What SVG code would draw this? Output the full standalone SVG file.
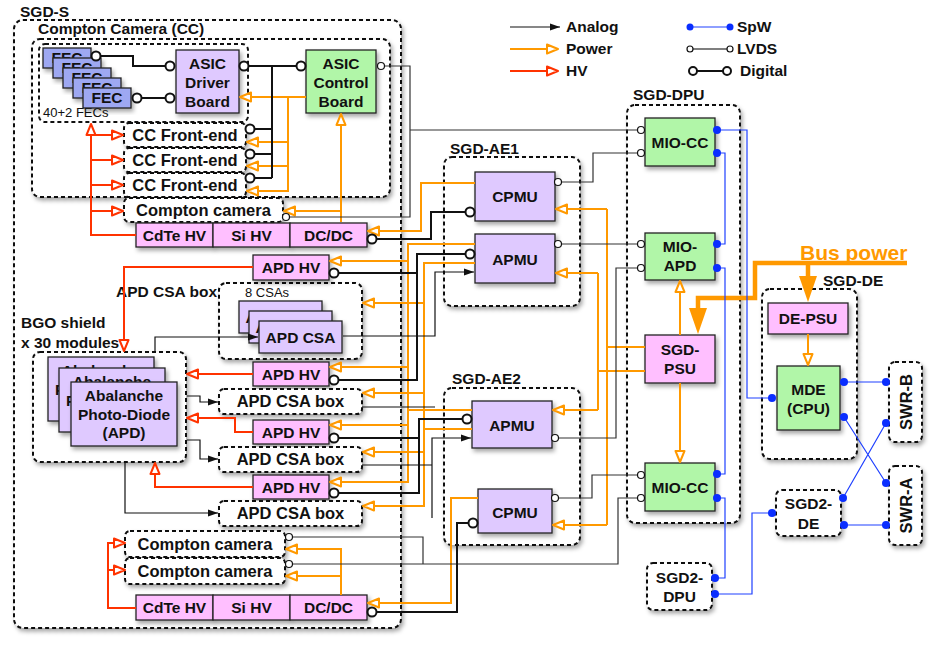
<svg xmlns="http://www.w3.org/2000/svg" width="934" height="645" viewBox="0 0 934 645">
<defs>
<style>
.t{font-family:"Liberation Sans",Arial,Helvetica,sans-serif;font-weight:bold;font-size:15.5px;fill:#111}
.c{text-anchor:middle}
.L{font-size:16.5px}
.n{font-weight:normal;font-size:13px}
.ct{fill:#fff;stroke:#111;stroke-width:2;stroke-dasharray:4 3;filter:url(#sh)}
.cn{fill:none;stroke:#111;stroke-width:2;stroke-dasharray:4 3}
.pu{fill:#dfc9ff;stroke:#222;stroke-width:1.3;filter:url(#sh)}
.pk{fill:#ffbfff;stroke:#222;stroke-width:1.3;filter:url(#sh)}
.gr{fill:#b1f6a8;stroke:#222;stroke-width:1.3;filter:url(#sh)}
.bl{fill:#9ea8f2;stroke:#222;stroke-width:1.3;filter:url(#sh)}
.dig{fill:none;stroke:#111;stroke-width:2}
.lv{fill:none;stroke:#333;stroke-width:1.2}
.an{fill:none;stroke:#111;stroke-width:1.2}
.pw{fill:none;stroke:#ff9900;stroke-width:2}
.hv{fill:none;stroke:#ff3300;stroke-width:2}
.sp{fill:none;stroke:#1f40ff;stroke-width:1.2}
.bp{fill:none;stroke:#ff9900;stroke-width:4.5}
.cd{fill:#fff;stroke:#111;stroke-width:2}
.cl{fill:#fff;stroke:#111;stroke-width:1.2}
.cs{fill:#0a2eff}
.mp{marker-end:url(#aP)}
.mh{marker-end:url(#aH)}
.ma{marker-end:url(#aA)}
.mb{marker-end:url(#aB)}
</style>
<filter id="sh" x="-15%" y="-15%" width="140%" height="150%">
<feDropShadow dx="2" dy="3" stdDeviation="2" flood-color="#000" flood-opacity="0.35"/>
</filter>
<clipPath id="cf0"><rect x="43" y="48" width="10" height="20"/><rect x="43" y="48" width="48" height="10"/></clipPath>
<clipPath id="cf1"><rect x="53" y="58" width="10" height="20"/><rect x="53" y="58" width="48" height="10"/></clipPath>
<clipPath id="cf2"><rect x="63" y="68" width="10" height="20"/><rect x="63" y="68" width="48" height="10"/></clipPath>
<clipPath id="cf3"><rect x="73" y="78" width="10" height="20"/><rect x="73" y="78" width="48" height="10"/></clipPath>
<clipPath id="cs0"><rect x="239" y="301" width="10" height="32"/><rect x="239" y="301" width="83" height="10"/></clipPath>
<clipPath id="cs1"><rect x="249" y="311" width="10" height="32"/><rect x="249" y="311" width="83" height="10"/></clipPath>
<clipPath id="ca0"><rect x="48" y="357" width="11" height="64"/><rect x="48" y="357" width="106" height="11"/></clipPath>
<clipPath id="ca1"><rect x="59" y="368" width="12" height="64"/><rect x="59" y="368" width="106" height="14"/></clipPath>
<marker id="aP" markerUnits="userSpaceOnUse" viewBox="0 0 15 12" markerWidth="15" markerHeight="12" refX="12.5" refY="6" orient="auto">
<path d="M1.5,1.5 L12.5,6 L1.5,10.5 Z" fill="#fff" stroke="#ff9900" stroke-width="2" stroke-linejoin="round"/>
</marker>
<marker id="aH" markerUnits="userSpaceOnUse" viewBox="0 0 15 12" markerWidth="15" markerHeight="12" refX="12.5" refY="6" orient="auto">
<path d="M1.5,1.5 L12.5,6 L1.5,10.5 Z" fill="#fff" stroke="#ff3300" stroke-width="2" stroke-linejoin="round"/>
</marker>
<marker id="aA" markerUnits="userSpaceOnUse" viewBox="0 0 10 8" markerWidth="10" markerHeight="8" refX="10" refY="4" orient="auto">
<path d="M0,0.5 L10,4 L0,7.5 Z" fill="#111"/>
</marker>
<marker id="aB" markerUnits="userSpaceOnUse" viewBox="0 0 26 18" markerWidth="26" markerHeight="18" refX="7" refY="9" orient="auto">
<path d="M0,0 L26,9 L0,18 Z" fill="#ff9900"/>
</marker>
</defs>
<rect width="934" height="645" fill="#fff"/>

<!-- containers -->
<g id="sgd-s"><rect class="ct" x="14" y="20" width="387" height="608" rx="9"/><text class="t" x="20" y="17">SGD-S</text></g>
<g id="cc"><rect class="ct" x="32" y="39" width="358" height="158" rx="8"/><text class="t" x="38" y="34">Compton Camera (CC)</text></g>
<g id="fec-group"><rect class="cn" x="39" y="44" width="209" height="78" rx="6"/><text class="t n" x="43" y="117">40+2 FECs</text></g>
<g id="apd-csa-group"><rect class="ct" x="219" y="283" width="143" height="76" rx="7"/><text class="t" x="116" y="297">APD CSA box</text><text class="t n" x="245" y="297">8 CSAs</text></g>
<g id="bgo"><rect class="ct" x="33" y="352" width="153" height="110" rx="7"/><text class="t" x="21" y="328">BGO shield</text><text class="t" x="21" y="348">x 30 modules</text></g>
<g id="sgd-ae1"><rect class="ct" x="444" y="157" width="136" height="149" rx="8"/><text class="t" x="450" y="154">SGD-AE1</text></g>
<g id="sgd-ae2"><rect class="ct" x="444" y="388" width="136" height="157" rx="8"/><text class="t" x="452" y="384">SGD-AE2</text></g>
<g id="sgd-dpu"><rect class="ct" x="627" y="105" width="113" height="418" rx="8"/><text class="t" x="633" y="100">SGD-DPU</text></g>
<g id="sgd-de"><rect class="ct" x="762" y="289" width="95" height="170" rx="8"/><text class="t" x="823" y="286">SGD-DE</text></g>

<!-- nodes -->
<g id="fec">
<rect class="bl" x="43" y="48" width="48" height="20"/><text class="t c" x="67" y="63" clip-path="url(#cf0)">FEC</text>
<rect class="bl" x="53" y="58" width="48" height="20"/><text class="t c" x="77" y="73" clip-path="url(#cf1)">FEC</text>
<rect class="bl" x="63" y="68" width="48" height="20"/><text class="t c" x="87" y="83" clip-path="url(#cf2)">FEC</text>
<rect class="bl" x="73" y="78" width="48" height="20"/><text class="t c" x="97" y="93" clip-path="url(#cf3)">FEC</text>
<rect class="bl" x="83" y="88" width="48" height="20"/><text class="t c" x="107" y="103">FEC</text>
</g>
<g id="asic-driver"><rect class="pu" x="176" y="50" width="63" height="63"/><text class="t c" x="207.5" y="69">ASIC</text><text class="t c" x="207.5" y="88">Driver</text><text class="t c" x="207.5" y="107">Board</text></g>
<g id="asic-control"><rect class="gr" x="306" y="50" width="70" height="63"/><text class="t c" x="341" y="69">ASIC</text><text class="t c" x="341" y="88">Control</text><text class="t c" x="341" y="107">Board</text></g>
<g id="cc-fe1"><rect class="ct" x="124" y="123" width="122" height="24" rx="5"/><text class="t c L" x="185" y="141">CC Front-end</text></g>
<g id="cc-fe2"><rect class="ct" x="124" y="148" width="122" height="24" rx="5"/><text class="t c L" x="185" y="166">CC Front-end</text></g>
<g id="cc-fe3"><rect class="ct" x="124" y="173" width="122" height="24" rx="5"/><text class="t c L" x="185" y="191">CC Front-end</text></g>
<g id="compton1"><rect class="ct" x="124" y="198" width="159" height="24" rx="5"/><text class="t c L" x="203.5" y="216">Compton camera</text></g>
<g id="hv-row1">
<rect class="pk" x="136" y="223" width="77" height="24"/><text class="t c" x="174.5" y="241">CdTe HV</text>
<rect class="pk" x="213" y="223" width="77" height="24"/><text class="t c" x="251.5" y="241">Si HV</text>
<rect class="pk" x="290" y="223" width="77" height="24"/><text class="t c" x="328.5" y="241">DC/DC</text>
</g>
<g id="apd-hv1"><rect class="pk" x="253" y="255" width="76" height="25"/><text class="t c" x="291" y="273">APD HV</text></g>
<g id="apd-csa">
<rect class="pu" x="239" y="301" width="83" height="32"/><text class="t c" x="280.5" y="323" clip-path="url(#cs0)">APD CSA</text>
<rect class="pu" x="249" y="311" width="83" height="32"/><text class="t c" x="290.5" y="333" clip-path="url(#cs1)">APD CSA</text>
<rect class="pu" x="259" y="321" width="83" height="32"/><text class="t c" x="300.5" y="343">APD CSA</text>
</g>
<g id="apd-hv2"><rect class="pk" x="253" y="362" width="76" height="24"/><text class="t c" x="291" y="380">APD HV</text></g>
<g id="csa-box1"><rect class="ct" x="219" y="389" width="143" height="25" rx="5"/><text class="t c L" x="290.5" y="407">APD CSA box</text></g>
<g id="apd-hv3"><rect class="pk" x="253" y="420" width="76" height="24"/><text class="t c" x="291" y="438">APD HV</text></g>
<g id="csa-box2"><rect class="ct" x="219" y="447" width="143" height="25" rx="5"/><text class="t c L" x="290.5" y="465">APD CSA box</text></g>
<g id="apd-hv4"><rect class="pk" x="253" y="475" width="76" height="24"/><text class="t c" x="291" y="493">APD HV</text></g>
<g id="csa-box3"><rect class="ct" x="219" y="501" width="143" height="25" rx="5"/><text class="t c L" x="290.5" y="519">APD CSA box</text></g>
<g id="apd">
<rect class="pu" x="48" y="357" width="106" height="64"/><g clip-path="url(#ca0)"><text class="t c" x="101" y="376">Abalanche</text><text class="t c" x="101" y="395">Photo-Diode</text></g>
<rect class="pu" x="59" y="368" width="106" height="64"/><g clip-path="url(#ca1)"><text class="t c" x="112" y="387">Abalanche</text><text class="t c" x="112" y="406">Photo-Diode</text></g>
<rect class="pu" x="71" y="382" width="106" height="64"/><text class="t c" x="124" y="401">Abalanche</text><text class="t c" x="124" y="420">Photo-Diode</text><text class="t c" x="124" y="438">(APD)</text>
</g>
<g id="compton2"><rect class="ct" x="125" y="531" width="160" height="26" rx="5"/><text class="t c L" x="205" y="550">Compton camera</text></g>
<g id="compton3"><rect class="ct" x="125" y="558" width="160" height="26" rx="5"/><text class="t c L" x="205" y="577">Compton camera</text></g>
<g id="hv-row2">
<rect class="pk" x="136" y="595" width="77" height="25"/><text class="t c" x="174.5" y="613">CdTe HV</text>
<rect class="pk" x="213" y="595" width="77" height="25"/><text class="t c" x="251.5" y="613">Si HV</text>
<rect class="pk" x="290" y="595" width="77" height="25"/><text class="t c" x="328.5" y="613">DC/DC</text>
</g>
<g id="cpmu1"><rect class="pu" x="475" y="172" width="80" height="49"/><text class="t c" x="515" y="202">CPMU</text></g>
<g id="apmu1"><rect class="pu" x="475" y="234" width="80" height="49"/><text class="t c" x="515" y="265">APMU</text></g>
<g id="apmu2"><rect class="pu" x="472" y="401" width="80" height="47"/><text class="t c" x="512" y="431">APMU</text></g>
<g id="cpmu2"><rect class="pu" x="478" y="489" width="74" height="44"/><text class="t c" x="515" y="518">CPMU</text></g>
<g id="mio-cc1"><rect class="gr" x="645" y="118" width="70" height="48"/><text class="t c" x="680" y="148">MIO-CC</text></g>
<g id="mio-apd"><rect class="gr" x="645" y="233" width="70" height="47"/><text class="t c" x="680" y="252">MIO-</text><text class="t c" x="680" y="271">APD</text></g>
<g id="sgd-psu"><rect class="pk" x="645" y="335" width="70" height="48"/><text class="t c" x="680" y="355">SGD-</text><text class="t c" x="680" y="374">PSU</text></g>
<g id="mio-cc2"><rect class="gr" x="645" y="463" width="70" height="48"/><text class="t c" x="680" y="493">MIO-CC</text></g>
<g id="sgd2-dpu"><rect class="ct" x="647" y="563" width="65" height="47" rx="6"/><text class="t c" x="679.5" y="583">SGD2-</text><text class="t c" x="679.5" y="602">DPU</text></g>
<g id="de-psu"><rect class="pk" x="768" y="303" width="80" height="31"/><text class="t c" x="808" y="324">DE-PSU</text></g>
<g id="mde"><rect class="gr" x="777" y="366" width="63" height="64"/><text class="t c" x="808.5" y="395">MDE</text><text class="t c" x="808.5" y="414">(CPU)</text></g>
<g id="sgd2-de"><rect class="ct" x="776" y="490" width="65" height="46" rx="6"/><text class="t c" x="808.5" y="509">SGD2-</text><text class="t c" x="808.5" y="529">DE</text></g>
<g id="swr-b"><rect class="ct" x="889" y="362" width="33" height="80" rx="6"/><text class="t c L" transform="translate(906,402) rotate(-90)" x="0" y="6">SWR-B</text></g>
<g id="swr-a"><rect class="ct" x="889" y="466" width="33" height="79" rx="6"/><text class="t c L" transform="translate(906,505.5) rotate(-90)" x="0" y="6">SWR-A</text></g>
<g id="bus-power-label"><text class="t" x="800" y="260" style="font-size:21px;fill:#ff9900">Bus power</text></g>

<!-- legend -->
<g id="legend">
<path class="an ma" d="M510,27 H560"/><text class="t" x="566" y="32">Analog</text>
<path class="pw mp" d="M510,49 H558"/><text class="t" x="566" y="54">Power</text>
<path class="hv mh" d="M510,71 H558"/><text class="t" x="566" y="76">HV</text>
<path class="sp" d="M690,27 H730"/><circle class="cs" cx="690" cy="27" r="3.5"/><circle class="cs" cx="730" cy="27" r="3.5"/><text class="t" x="737" y="32">SpW</text>
<path d="M693,49 H727" fill="none" stroke="#555" stroke-width="1.5"/><circle class="cl" cx="690" cy="49" r="3"/><circle class="cl" cx="730" cy="49" r="3"/><text class="t" x="737" y="54">LVDS</text>
<path class="dig" d="M697,71 H723"/><circle class="cd" cx="693" cy="71" r="4"/><circle class="cd" cx="727" cy="71" r="4"/><text class="t" x="740" y="76">Digital</text>
</g>

<!-- connectors -->
<g id="connectors">
<!-- HV -->
<path class="hv mh" d="M136,235 H91 V124"/>
<path class="hv mh" d="M91,135 H123"/>
<path class="hv mh" d="M91,160 H123"/>
<path class="hv mh" d="M91,185 H123"/>
<path class="hv mh" d="M91,211 H123"/>
<path class="hv mh" d="M253,267 H124 V351"/>
<path class="hv mh" d="M253,374 H187"/>
<path class="hv mh" d="M253,432 H235 V418 H187"/>
<path class="hv mh" d="M253,487 H155 V463"/>
<path class="hv mh" d="M136,608 H108 V543 H125"/>
<path class="hv mh" d="M108,570 H125"/>
<!-- Power -->
<path class="pw mp" d="M306,97 H240"/>
<path class="pw mp" d="M288,97 V191 H247"/>
<path class="pw mp" d="M288,142 H247"/>
<path class="pw mp" d="M288,166 H247"/>
<path class="pw mp" d="M341,222 V114"/>
<path class="pw mp" d="M341,211 H284"/>
<path class="pw mp" d="M475,183 H421 V231 H368"/>
<path class="pw mp" d="M475,244 H408 V482 H330"/>
<path class="pw mp" d="M408,261 H330"/>
<path class="pw mp" d="M408,367 H330"/>
<path class="pw mp" d="M408,425 H330"/>
<path class="pw" d="M472,410 H408"/>
<path class="pw mp" d="M475,263 H424 V506 H363"/>
<path class="pw mp" d="M424,303 H363"/>
<path class="pw mp" d="M424,393 H363"/>
<path class="pw mp" d="M424,452 H363"/>
<path class="pw" d="M472,429 H424"/>
<path class="pw mp" d="M478,498 H451 V603 H368"/>
<path class="pw mp" d="M341,595 V549 H286"/>
<path class="pw mp" d="M341,576 H286"/>
<path class="pw" d="M645,347 H607 M607,209 V525 M645,371 H598 M598,273 V410"/>
<path class="pw mp" d="M607,209 H556"/>
<path class="pw mp" d="M607,525 H553"/>
<path class="pw mp" d="M598,273 H556"/>
<path class="pw mp" d="M598,410 H553"/>
<path class="pw mp" d="M680,335 V281"/>
<path class="pw mp" d="M680,383 V462"/>
<path class="pw mp" d="M808,334 V365"/>
<path class="bp mb" d="M907,263 H755 V298 H698 V315"/>
<path class="bp mb" d="M808,263 V283"/>
<!-- Analog -->
<path class="an ma" d="M343,336 H435 V272 H474"/>
<path class="an" d="M362,407 H435"/>
<path class="an ma" d="M432,518 V438 H471"/>
<path class="an" d="M362,465 H432"/>
<path class="an ma" d="M155,352 V337 H258"/>
<path class="an ma" d="M187,396 H200 V402 H218"/>
<path class="an ma" d="M187,440 H200 V459 H218"/>
<path class="an ma" d="M125,462 V513 H218"/>
<!-- LVDS -->
<path class="lv" d="M384.5,66 H410 V217 H289.5 M410,130 H637.5"/>
<path class="lv" d="M561.5,182 H593 V153 H637.5"/>
<path class="lv" d="M561.5,244 H637.5"/>
<path class="lv" d="M558.5,438 H616 V268 H637.5"/>
<path class="lv" d="M558.5,498 H592 V475 H637.5"/>
<path class="lv" d="M292.5,537 H423 V564 M292.5,564 H618 V498 H637.5"/>
<circle class="cl" cx="381" cy="66" r="3.5"/><circle class="cl" cx="286" cy="217" r="3.5"/><circle class="cl" cx="641" cy="130" r="3.5"/>
<circle class="cl" cx="558" cy="182" r="3.5"/><circle class="cl" cx="641" cy="153" r="3.5"/>
<circle class="cl" cx="558" cy="244" r="3.5"/><circle class="cl" cx="641" cy="244" r="3.5"/>
<circle class="cl" cx="555" cy="438" r="3.5"/><circle class="cl" cx="641" cy="268" r="3.5"/>
<circle class="cl" cx="555" cy="498" r="3.5"/><circle class="cl" cx="641" cy="475" r="3.5"/>
<circle class="cl" cx="289" cy="537" r="3.5"/><circle class="cl" cx="289" cy="564" r="3.5"/><circle class="cl" cx="641" cy="498" r="3.5"/>
<!-- Digital -->
<path class="dig" d="M100.5,56 H133 V66 H165.5"/>
<path class="dig" d="M141.5,98 H165.5"/>
<path class="dig" d="M248.5,66 H296.5 M272,66 V178 M254.5,129 H272 M254.5,154 H272 M254.5,178 H272"/>
<path class="dig" d="M465.5,212 H431 V239 H376.5"/>
<path class="dig" d="M465.5,254 H417 V380 H338.5 M417,273 H338.5"/>
<path class="dig" d="M462.5,419 H419 V493 H338.5 M419,438 H338.5"/>
<path class="dig" d="M468.5,523 H457 V612 H376.5"/>
<circle class="cd" cx="96" cy="56" r="4.5"/><circle class="cd" cx="170" cy="66" r="4.5"/>
<circle class="cd" cx="137" cy="98" r="4.5"/><circle class="cd" cx="170" cy="98" r="4.5"/>
<circle class="cd" cx="244" cy="66" r="4.5"/><circle class="cd" cx="301" cy="66" r="4.5"/>
<circle class="cd" cx="250" cy="129" r="4.5"/><circle class="cd" cx="250" cy="154" r="4.5"/><circle class="cd" cx="250" cy="178" r="4.5"/>
<circle class="cd" cx="470" cy="212" r="4.5"/><circle class="cd" cx="372" cy="239" r="4.5"/>
<circle class="cd" cx="470" cy="254" r="4.5"/><circle class="cd" cx="334" cy="273" r="4.5"/><circle class="cd" cx="334" cy="380" r="4.5"/>
<circle class="cd" cx="467" cy="419" r="4.5"/><circle class="cd" cx="334" cy="438" r="4.5"/><circle class="cd" cx="334" cy="493" r="4.5"/>
<circle class="cd" cx="473" cy="523" r="4.5"/><circle class="cd" cx="372" cy="612" r="4.5"/>
<!-- SpW -->
<path class="sp" d="M717,130 H747 V398 H772"/>
<path class="sp" d="M717,153 H725 V244 H717"/>
<path class="sp" d="M717,268 H725 V474 H717"/>
<path class="sp" d="M717,498 H725 V578 H715"/>
<path class="sp" d="M715,594 H752 V513 H772"/>
<path class="sp" d="M844,382 H886 M844,417 L886,483 M843,498 L886,423 M844,525 H886"/>
<circle class="cs" cx="717" cy="130" r="4"/><circle class="cs" cx="717" cy="153" r="4"/>
<circle class="cs" cx="717" cy="244" r="4"/><circle class="cs" cx="717" cy="268" r="4"/>
<circle class="cs" cx="717" cy="474" r="4"/><circle class="cs" cx="717" cy="498" r="4"/>
<circle class="cs" cx="772" cy="398" r="4"/><circle class="cs" cx="715" cy="578" r="4"/>
<circle class="cs" cx="715" cy="594" r="4"/><circle class="cs" cx="772" cy="513" r="4"/>
<circle class="cs" cx="844" cy="382" r="4"/><circle class="cs" cx="844" cy="417" r="4"/>
<circle class="cs" cx="886" cy="382" r="4"/><circle class="cs" cx="886" cy="423" r="4"/>
<circle class="cs" cx="886" cy="483" r="4"/><circle class="cs" cx="886" cy="525" r="4"/>
<circle class="cs" cx="843" cy="498" r="4"/><circle class="cs" cx="844" cy="525" r="4"/>
</g>
</svg>
